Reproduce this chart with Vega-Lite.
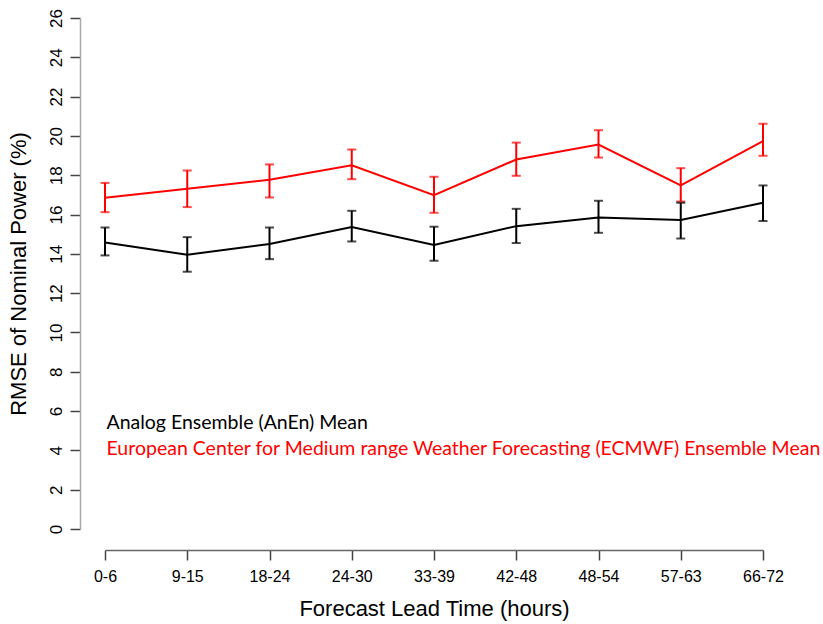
{
  "$schema": "https://vega.github.io/schema/vega-lite/v6.json",
  "width": 658,
  "height": 511,
  "autosize": {"type": "none"},
  "padding": {"left": 105, "top": 18, "right": 60, "bottom": 95},
  "background": "white",
  "config": {
    "view": {"stroke": null},
    "font": "Liberation Sans",
    "axis": {"grid": false, "domainColor": "#666", "tickColor": "#444", "labelColor": "black", "titleColor": "black", "labelFont": "Liberation Sans", "titleFont": "Liberation Sans", "titleFontWeight": "normal", "labelOverlap": false},
    "axisY": {"values": [0, 2, 4, 6, 8, 10, 12, 14, 16, 18, 20, 22, 24, 26], "offset": 25, "tickSize": 10, "labelAngle": -90, "labelAlign": "center", "labelBaseline": "bottom", "labelPadding": 5, "labelFontSize": 17, "labelOverlap": false, "labelFlush": false, "titleFontSize": 22, "titlePadding": 17, "domainWidth": 1.5, "tickWidth": 1.5, "domainColor": "#aaa"}
  },
  "data": {
    "values": [
      {"lead": "0-6", "series": "AnEn", "rmse": 14.58, "lo": 13.92, "hi": 15.34},
      {"lead": "9-15", "series": "AnEn", "rmse": 13.95, "lo": 13.09, "hi": 14.85},
      {"lead": "18-24", "series": "AnEn", "rmse": 14.50, "lo": 13.73, "hi": 15.34},
      {"lead": "24-30", "series": "AnEn", "rmse": 15.36, "lo": 14.63, "hi": 16.19},
      {"lead": "33-39", "series": "AnEn", "rmse": 14.45, "lo": 13.65, "hi": 15.38},
      {"lead": "42-48", "series": "AnEn", "rmse": 15.41, "lo": 14.55, "hi": 16.29},
      {"lead": "48-54", "series": "AnEn", "rmse": 15.85, "lo": 15.07, "hi": 16.70},
      {"lead": "57-63", "series": "AnEn", "rmse": 15.72, "lo": 14.78, "hi": 16.60},
      {"lead": "66-72", "series": "AnEn", "rmse": 16.60, "lo": 15.67, "hi": 17.48},
      {"lead": "0-6", "series": "ECMWF", "rmse": 16.85, "lo": 16.12, "hi": 17.61},
      {"lead": "9-15", "series": "ECMWF", "rmse": 17.31, "lo": 16.38, "hi": 18.24},
      {"lead": "18-24", "series": "ECMWF", "rmse": 17.77, "lo": 16.87, "hi": 18.55},
      {"lead": "24-30", "series": "ECMWF", "rmse": 18.51, "lo": 17.80, "hi": 19.31},
      {"lead": "33-39", "series": "ECMWF", "rmse": 16.99, "lo": 16.09, "hi": 17.92},
      {"lead": "42-48", "series": "ECMWF", "rmse": 18.80, "lo": 17.97, "hi": 19.66},
      {"lead": "48-54", "series": "ECMWF", "rmse": 19.56, "lo": 18.90, "hi": 20.29},
      {"lead": "57-63", "series": "ECMWF", "rmse": 17.48, "lo": 16.66, "hi": 18.36},
      {"lead": "66-72", "series": "ECMWF", "rmse": 19.73, "lo": 18.99, "hi": 20.62}
    ]
  },
  "encoding": {
    "x": {
      "field": "lead", "type": "ordinal", "sort": null,
      "scale": {"type": "point", "padding": 0},
      "axis": {"title": "Forecast Lead Time (hours)", "labelAngle": 0, "offset": 21, "tickSize": 10, "labelPadding": 8, "labelFontSize": 16, "titleFontSize": 22, "titlePadding": 14, "domainWidth": 1.5, "tickWidth": 1.5}
    },
    "color": {
      "field": "series", "type": "nominal",
      "scale": {"domain": ["AnEn", "ECMWF"], "range": ["black", "#ff0000"]},
      "legend": null
    }
  },
  "layer": [
    {
      "mark": {"type": "line", "strokeWidth": 2},
      "encoding": {
        "y": {
          "field": "rmse", "type": "quantitative",
          "scale": {"domain": [0, 26], "nice": false},
          "axis": {"title": "RMSE of Nominal Power (%)", "values": [0, 2, 4, 6, 8, 10, 12, 14, 16, 18, 20, 22, 24, 26]}
        },
        "color": {
          "field": "series", "type": "nominal",
          "scale": {"domain": ["AnEn", "ECMWF"], "range": ["black", "#ff0000"]},
          "legend": {
            "title": null, "orient": "none", "legendX": -18, "legendY": 395, "padding": 0,
            "symbolSize": 0, "symbolStrokeWidth": 0, "labelOffset": 0, "rowPadding": 5,
            "labelFont": "Lato", "labelFontSize": 19.5, "labelLimit": 900,
            "labelExpr": "datum.label == 'AnEn' ? 'Analog Ensemble (AnEn) Mean' : 'European Center for Medium range Weather Forecasting (ECMWF) Ensemble Mean'",
            "encode": {"labels": {"update": {"fill": {"signal": "datum.value == 'AnEn' ? 'black' : '#ff0000'"}}}}
          }
        }
      }
    },
    {
      "mark": {"type": "rule", "strokeWidth": 2},
      "encoding": {"y": {"field": "lo", "type": "quantitative", "axis": {"title": "RMSE of Nominal Power (%)", "values": [0, 2, 4, 6, 8, 10, 12, 14, 16, 18, 20, 22, 24, 26]}}, "y2": {"field": "hi"}}
    },
    {
      "mark": {"type": "tick", "size": 9, "thickness": 2, "orient": "horizontal"},
      "encoding": {"y": {"field": "lo", "type": "quantitative", "axis": {"title": "RMSE of Nominal Power (%)", "values": [0, 2, 4, 6, 8, 10, 12, 14, 16, 18, 20, 22, 24, 26]}}}
    },
    {
      "mark": {"type": "tick", "size": 9, "thickness": 2, "orient": "horizontal"},
      "encoding": {"y": {"field": "hi", "type": "quantitative", "axis": {"title": "RMSE of Nominal Power (%)", "values": [0, 2, 4, 6, 8, 10, 12, 14, 16, 18, 20, 22, 24, 26]}}}
    }
  ]
}
